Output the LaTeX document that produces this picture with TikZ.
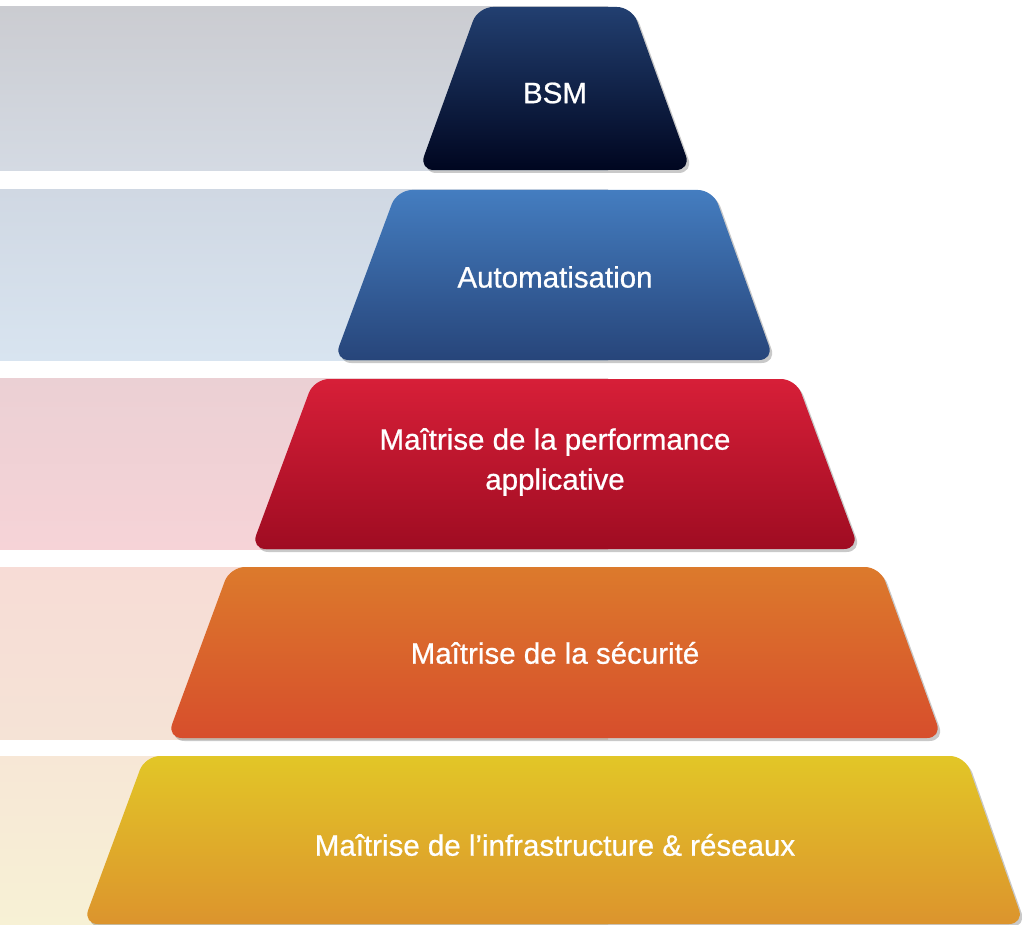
\documentclass[tikz,border=0pt]{standalone}
\usepackage{fontspec}
\setmainfont{Liberation Sans}[FakeBold=0.7]
\usetikzlibrary{shadows}
\definecolor{bsmT}{HTML}{223F70}\definecolor{bsmB}{HTML}{000620}
\definecolor{autT}{HTML}{447DC0}\definecolor{autB}{HTML}{27457A}
\definecolor{perT}{HTML}{D71F38}\definecolor{perB}{HTML}{9F0C22}
\definecolor{secT}{HTML}{DC7A2C}\definecolor{secB}{HTML}{D74E2C}
\definecolor{infT}{HTML}{E2C627}\definecolor{infB}{HTML}{DC942D}
\definecolor{b1T}{HTML}{CBCCD1}\definecolor{b1B}{HTML}{D4DAE3}
\definecolor{b2T}{HTML}{D0D8E3}\definecolor{b2B}{HTML}{D8E4F0}
\definecolor{b3T}{HTML}{EBD0D4}\definecolor{b3B}{HTML}{F6D3D7}
\definecolor{b4T}{HTML}{F7DCD6}\definecolor{b4B}{HTML}{F5E3D6}
\definecolor{b5T}{HTML}{F7E7D6}\definecolor{b5B}{HTML}{F7F1D5}
\tikzset{
  tier/.style={rounded corners=15pt, drop shadow={shadow xshift=2.5pt, shadow yshift=-3pt, opacity=0.3, fill=black!70}},
  label/.style={text=white, font=\fontsize{29.5}{40}\selectfont, align=center, inner sep=0pt},
}
\begin{document}
\begin{tikzpicture}[x=1pt,y=-1pt]
\useasboundingbox (0,0) rectangle (1022,925);
% background bands
\shade[top color=b1T, bottom color=b1B] (0,7) rectangle (608,171);
\shade[top color=b2T, bottom color=b2B] (0,190) rectangle (608,360);
\shade[top color=b3T, bottom color=b3B] (0,378) rectangle (608,549);
\shade[top color=b4T, bottom color=b4B] (0,567) rectangle (608,739);
\shade[top color=b5T, bottom color=b5B] (0,756) rectangle (608,925);
% tiers
\path[tier, top color=bsmT, bottom color=bsmB] (419,170) -- (478,7) -- (632,7) -- (691,170) -- cycle;
\path[tier, top color=autT, bottom color=autB] (334,360) -- (397,190) -- (713,190) -- (774,360) -- cycle;
\path[tier, top color=perT, bottom color=perB] (251,549) -- (314,379) -- (796,379) -- (859,549) -- cycle;
\path[tier, top color=secT, bottom color=secB] (167,738) -- (230,567) -- (880,567) -- (942,738) -- cycle;
\path[tier, top color=infT, bottom color=infB] (83,924) -- (145,756) -- (965,756) -- (1024,924) -- cycle;
% labels
\node[label] (bsm) at (555,93) {BSM};
\node[label] (aut) at (555,277) {Automatisation};
\node[label] (per) at (555,462) {Maîtrise de la performance\\applicative};
\node[label] (sec) at (555,653) {Maîtrise de la sécurité};
\node[label] (inf) at (555,845) {Maîtrise de l’infrastructure \& réseaux};
\end{tikzpicture}
\end{document}
